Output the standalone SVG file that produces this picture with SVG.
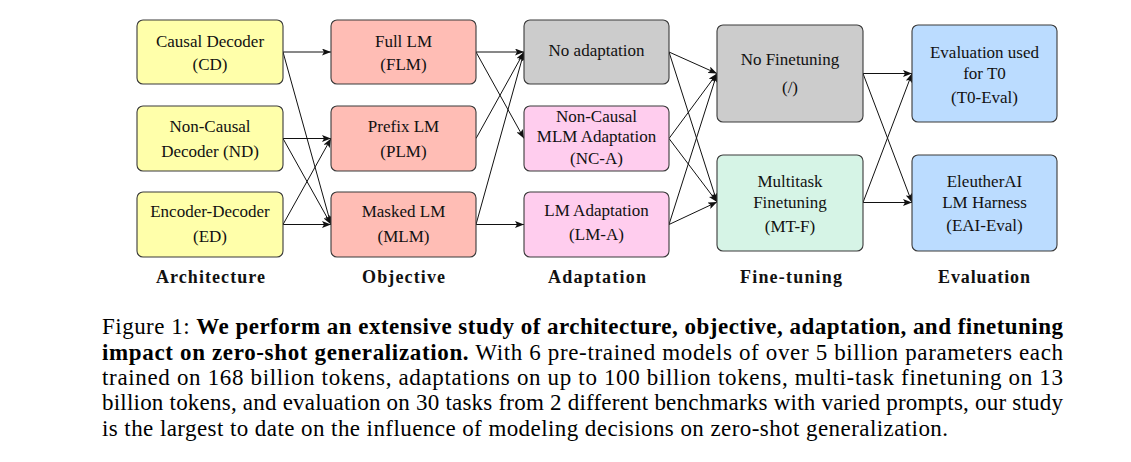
<svg xmlns="http://www.w3.org/2000/svg" width="1131" height="462" viewBox="0 0 1131 462">
<style>
.box{stroke:#3a3a3a;stroke-width:1.1}
.t{font-family:"Liberation Serif","Times New Roman",serif;font-size:17px;fill:#111;text-anchor:middle}
.lbl{font-family:"Liberation Serif","Times New Roman",serif;font-size:18px;font-weight:bold;fill:#111;text-anchor:middle}
.cap{font-family:"Liberation Serif","Times New Roman",serif;font-size:23px;fill:#000}
.b{font-weight:bold}
.c{fill:none;stroke:#111;stroke-width:1}
.yel{fill:#ffffaa}.red{fill:#ffbdb5}.gry{fill:#cccccc}.pnk{fill:#ffcdee}.mnt{fill:#d6f4e6}.blu{fill:#bbdcff}
</style>
<defs>
<marker id="ah" markerUnits="userSpaceOnUse" markerWidth="9" markerHeight="7" refX="9" refY="3.5" orient="auto">
<path d="M0,0 L9,3.5 L0,7 L2,3.5 z" fill="#111"/>
</marker>
</defs>
<rect width="1131" height="462" fill="#fff"/>

<g id="connectors">
<line class="c" x1="283" y1="52" x2="331" y2="52" marker-end="url(#ah)"/>
<line class="c" x1="283" y1="52" x2="331" y2="224.5" marker-end="url(#ah)"/>
<line class="c" x1="283" y1="138.5" x2="331" y2="138.5" marker-end="url(#ah)"/>
<line class="c" x1="283" y1="138.5" x2="331" y2="224.5" marker-end="url(#ah)"/>
<line class="c" x1="283" y1="224.5" x2="331" y2="224.5" marker-end="url(#ah)"/>
<line class="c" x1="283" y1="224.5" x2="331" y2="138.5" marker-end="url(#ah)"/>

<line class="c" x1="476" y1="52" x2="524" y2="52" marker-end="url(#ah)"/>
<line class="c" x1="476" y1="52" x2="524" y2="138.5" marker-end="url(#ah)"/>
<line class="c" x1="476" y1="138.5" x2="524" y2="52" marker-end="url(#ah)"/>
<line class="c" x1="476" y1="224.5" x2="524" y2="52" marker-end="url(#ah)"/>
<line class="c" x1="476" y1="224.5" x2="524" y2="224.5" marker-end="url(#ah)"/>

<line class="c" x1="669" y1="52" x2="717" y2="73.5" marker-end="url(#ah)"/>
<line class="c" x1="669" y1="52" x2="717" y2="202" marker-end="url(#ah)"/>
<line class="c" x1="669" y1="138.5" x2="717" y2="73.5" marker-end="url(#ah)"/>
<line class="c" x1="669" y1="138.5" x2="717" y2="202" marker-end="url(#ah)"/>
<line class="c" x1="669" y1="224.5" x2="717" y2="73.5" marker-end="url(#ah)"/>
<line class="c" x1="669" y1="224.5" x2="717" y2="202" marker-end="url(#ah)"/>

<line class="c" x1="863" y1="73.5" x2="912" y2="73.5" marker-end="url(#ah)"/>
<line class="c" x1="863" y1="73.5" x2="912" y2="202.5" marker-end="url(#ah)"/>
<line class="c" x1="863" y1="202.5" x2="912" y2="202.5" marker-end="url(#ah)"/>
<line class="c" x1="863" y1="202.5" x2="912" y2="73.5" marker-end="url(#ah)"/>
</g>

<g id="cd"><rect class="box yel" x="137" y="20" width="146" height="64" rx="6"/>
<text class="t" x="210" y="46.5">Causal Decoder</text><text class="t" x="210" y="70">(CD)</text></g>
<g id="nd"><rect class="box yel" x="137" y="106" width="146" height="65" rx="6"/>
<text class="t" x="210" y="132">Non-Causal</text><text class="t" x="210" y="156.5">Decoder (ND)</text></g>
<g id="ed"><rect class="box yel" x="137" y="192" width="146" height="65" rx="6"/>
<text class="t" x="210" y="217">Encoder-Decoder</text><text class="t" x="210" y="242">(ED)</text></g>

<g id="flm"><rect class="box red" x="331" y="20" width="145" height="64" rx="6"/>
<text class="t" x="403.5" y="46.5">Full LM</text><text class="t" x="403.5" y="70">(FLM)</text></g>
<g id="plm"><rect class="box red" x="331" y="106" width="145" height="65" rx="6"/>
<text class="t" x="403.5" y="132">Prefix LM</text><text class="t" x="403.5" y="156.5">(PLM)</text></g>
<g id="mlm"><rect class="box red" x="331" y="192" width="145" height="65" rx="6"/>
<text class="t" x="403.5" y="217">Masked LM</text><text class="t" x="403.5" y="242">(MLM)</text></g>

<g id="noad"><rect class="box gry" x="524" y="20" width="145" height="64" rx="6"/>
<text class="t" x="596.5" y="56">No adaptation</text></g>
<g id="nca"><rect class="box pnk" x="524" y="106" width="145" height="65" rx="6"/>
<text class="t" x="596.5" y="122">Non-Causal</text><text class="t" x="596.5" y="142">MLM Adaptation</text><text class="t" x="596.5" y="163.5">(NC-A)</text></g>
<g id="lma"><rect class="box pnk" x="524" y="192" width="145" height="65" rx="6"/>
<text class="t" x="596.5" y="215.5">LM Adaptation</text><text class="t" x="596.5" y="240">(LM-A)</text></g>

<g id="noft"><rect class="box gry" x="717" y="25" width="146" height="97" rx="6"/>
<text class="t" x="790" y="65">No Finetuning</text><text class="t" x="790" y="93">(/)</text></g>
<g id="mtf"><rect class="box mnt" x="717" y="155" width="146" height="96" rx="6"/>
<text class="t" x="790" y="187">Multitask</text><text class="t" x="790" y="207.5">Finetuning</text><text class="t" x="790" y="232">(MT-F)</text></g>

<g id="t0"><rect class="box blu" x="912" y="25" width="145" height="97" rx="6"/>
<text class="t" x="984.5" y="58">Evaluation used</text><text class="t" x="984.5" y="78.5">for T0</text><text class="t" x="984.5" y="103">(T0-Eval)</text></g>
<g id="eai"><rect class="box blu" x="912" y="155" width="145" height="96" rx="6"/>
<text class="t" x="984.5" y="187">EleutherAI</text><text class="t" x="984.5" y="207.5">LM Harness</text><text class="t" x="984.5" y="231">(EAI-Eval)</text></g>

<g id="labels">
<text class="lbl" x="210.5" y="283" textLength="109" lengthAdjust="spacing">Architecture</text>
<text class="lbl" x="403.5" y="283" textLength="83" lengthAdjust="spacing">Objective</text>
<text class="lbl" x="597" y="283" textLength="98" lengthAdjust="spacing">Adaptation</text>
<text class="lbl" x="791" y="283" textLength="102" lengthAdjust="spacing">Fine-tuning</text>
<text class="lbl" x="984" y="283" textLength="92" lengthAdjust="spacing">Evaluation</text>
</g>

<g id="caption">
<text class="cap" x="102" y="334" textLength="961" lengthAdjust="spacing">Figure 1: <tspan class="b">We perform an extensive study of architecture, objective, adaptation, and finetuning</tspan></text>
<text class="cap" x="102" y="359.5" textLength="961" lengthAdjust="spacing"><tspan class="b">impact on zero-shot generalization.</tspan> With 6 pre-trained models of over 5 billion parameters each</text>
<text class="cap" x="102" y="385" textLength="961" lengthAdjust="spacing">trained on 168 billion tokens, adaptations on up to 100 billion tokens, multi-task finetuning on 13</text>
<text class="cap" x="102" y="410" textLength="961" lengthAdjust="spacing">billion tokens, and evaluation on 30 tasks from 2 different benchmarks with varied prompts, our study</text>
<text class="cap" x="102" y="435.5" textLength="846" lengthAdjust="spacing">is the largest to date on the influence of modeling decisions on zero-shot generalization.</text>
</g>
</svg>
